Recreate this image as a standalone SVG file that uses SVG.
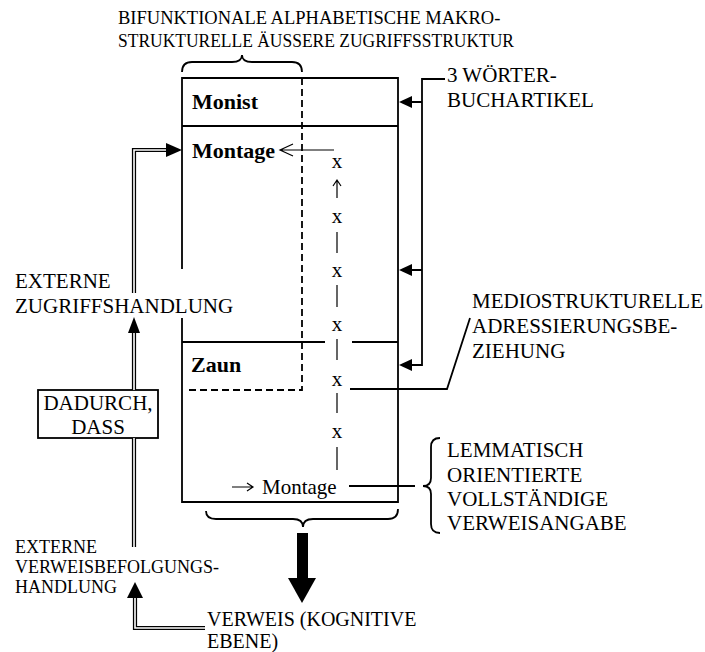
<svg xmlns="http://www.w3.org/2000/svg" width="705" height="652" viewBox="0 0 705 652">
<defs>
<style>
text{font-family:'Liberation Serif','DejaVu Serif',serif;font-size:21px;fill:#000}
.b{font-weight:bold;font-size:22px}
.s{font-size:18px}
.t{font-size:18.5px}
.v{font-size:20px}
.ln{fill:none;stroke:#000;stroke-width:1.8}
.th{fill:none;stroke:#000;stroke-width:1.2}
.ds{fill:none;stroke:#000;stroke-width:1.8;stroke-dasharray:7 4}
.dbo{fill:none;stroke:#000;stroke-width:4.2}
.dbi{fill:none;stroke:#fff;stroke-width:1.6}
.ah{fill:#000}
</style>
</defs>
<rect width="705" height="652" fill="#fff"/>
<g id="title">
<text class="t" x="118" y="24">BIFUNKTIONALE ALPHABETISCHE MAKRO-</text>
<text class="t" x="118" y="47" textLength="396" lengthAdjust="spacingAndGlyphs">STRUKTURELLE ÄUSSERE ZUGRIFFSSTRUKTUR</text>
</g>
<g id="box">
<path class="ln" d="M182,269 L182,78 L398,78 L398,502 L182,502 L182,318"/>
<path class="ln" d="M182,126 L398,126"/>
<path class="ln" d="M182,342 L325,342 M352,342 L398,342"/>
<path class="ds" d="M302,78 L302,390 L187,390"/>
</g>
<g id="monist"><text class="b" x="192" y="109">Monist</text></g>
<g id="montage"><text class="b" x="192" y="158">Montage</text></g>
<g id="zaun"><text class="b" x="191" y="372">Zaun</text></g>
<g id="xcol">
<text x="337" y="168" text-anchor="middle">x</text>
<text x="337" y="223" text-anchor="middle">x</text>
<text x="337" y="277" text-anchor="middle">x</text>
<text x="337" y="331" text-anchor="middle">x</text>
<text x="337" y="386" text-anchor="middle">x</text>
<text x="337" y="438" text-anchor="middle">x</text>
<path class="th" d="M337,232 L337,253 M337,285 L337,307 M337,339 L337,360 M337,393 L337,413 M337,447 L337,470"/>
<path class="th" d="M337,198 L337,180 M333,186 L337,180 L341,186"/>
</g>
<g id="ref"><text x="262" y="494">Montage</text><path class="th" d="M232,487 L253,487 M247,483 L253,487 L247,491"/></g>
<g id="wb"><text x="447" y="82">3 WÖRTER-</text><text x="447" y="107">BUCHARTIKEL</text></g>
<g id="medio"><text x="472" y="308">MEDIOSTRUKTURELLE</text><text x="472" y="333">ADRESSIERUNGSBE-</text><text x="472" y="358">ZIEHUNG</text></g>
<g id="lemma"><text x="447" y="457">LEMMATISCH</text><text x="447" y="482">ORIENTIERTE</text><text x="447" y="506">VOLLSTÄNDIGE</text><text x="447" y="530">VERWEISANGABE</text></g>
<g id="ext1"><text x="15" y="288">EXTERNE</text><text x="15" y="313">ZUGRIFFSHANDLUNG</text></g>
<g id="dadurch">
<rect x="38" y="390" width="120" height="48" class="ln" fill="#fff"/>
<text x="98" y="410" text-anchor="middle">DADURCH,</text>
<text x="98" y="434" text-anchor="middle">DASS</text>
</g>
<g id="ext2"><text class="s" x="15" y="553">EXTERNE</text><text class="s" x="15" y="573">VERWEISBEFOLGUNGS-</text><text class="s" x="15" y="593">HANDLUNG</text></g>
<g id="verweis"><text class="v" x="207" y="626">VERWEIS (KOGNITIVE</text><text class="v" x="207" y="648">EBENE)</text></g>
<g id="connectors">
<path class="ln" d="M182,72 Q182,62 192,62 L232,62 Q242,62 242,55 Q242,62 252,62 L292,62 Q302,62 302,72"/>
<path class="ln" d="M206,511 Q206,519 216,519 L293,519 Q303,519 303,527 Q303,519 313,519 L388,519 Q398,519 398,509"/>
<path class="ln" d="M440,438 Q431,438 431,447 L431,478 Q431,486 423,486 Q431,486 431,494 L431,524 Q431,533 440,533"/>
<path class="ln" d="M445,79 L422,79 L422,365 L410,365"/>
<path class="ln" d="M422,102 L410,102 M422,270 L410,270"/>
<polygon class="ah" points="399,102 412,96 412,108"/>
<polygon class="ah" points="399,270 412,264 412,276"/>
<polygon class="ah" points="399,365 412,359 412,371"/>
<path class="th" d="M334,150 L280,150 M293,144 L280,150 L293,156"/>
<path class="ln" d="M350,389 L447,389 L470,318"/>
<path class="ln" d="M349,486 L415,486"/>
<rect x="297" y="533" width="11" height="46" class="ah"/>
<polygon class="ah" points="288,578 316,578 302,603"/>
<path class="dbo" d="M134,293 L134,150 L166,150"/>
<path class="dbi" d="M134,293 L134,150 L166,150"/>
<polygon class="ah" points="182,150 166,143 166,157"/>
<path class="dbo" d="M134,333 L134,390 M134,438 L134,547"/>
<path class="dbi" d="M134,333 L134,390 M134,438 L134,547"/>
<polygon class="ah" points="134,317 128,333 140,333"/>
<path class="dbo" d="M135,598 L135,628 L205,628"/>
<path class="dbi" d="M135,598 L135,628 L205,628"/>
<polygon class="ah" points="135,582 127,598 143,598"/>
</g>
</svg>
